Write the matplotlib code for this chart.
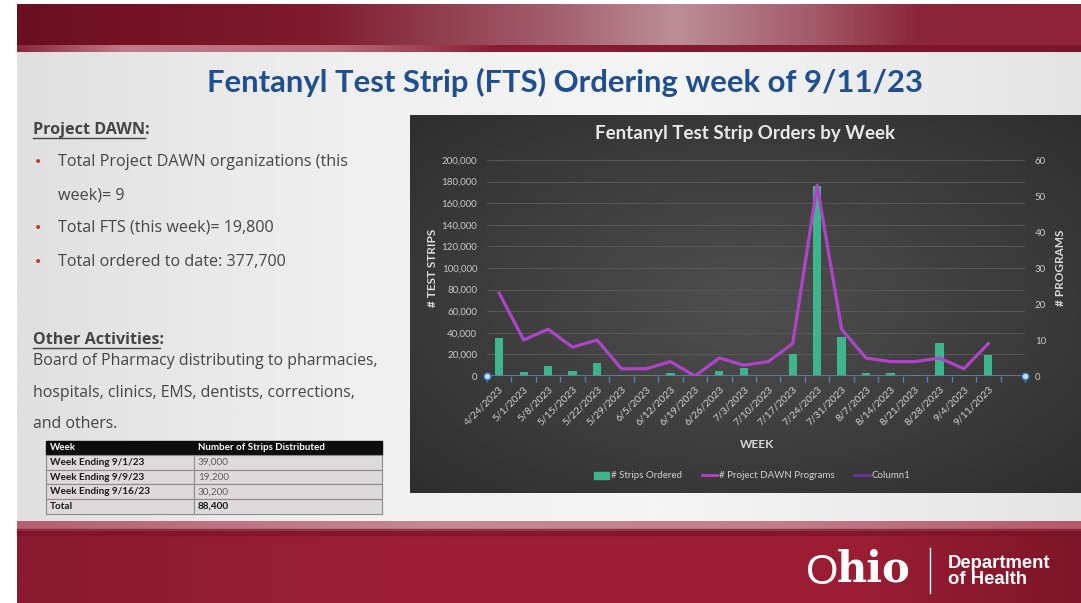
import numpy as np
import matplotlib.pyplot as plt
from matplotlib.colors import LinearSegmentedColormap
from matplotlib.patches import Rectangle, Patch
from matplotlib.lines import Line2D
from matplotlib.ticker import FuncFormatter

weeks = ['4/24/2023', '5/1/2023', '5/8/2023', '5/15/2023', '5/22/2023', '5/29/2023',
         '6/5/2023', '6/12/2023', '6/19/2023', '6/26/2023', '7/3/2023', '7/10/2023',
         '7/17/2023', '7/24/2023', '7/31/2023', '8/7/2023', '8/14/2023', '8/21/2023',
         '8/28/2023', '9/4/2023', '9/11/2023']
strips_ordered = [35000, 4000, 9500, 4600, 12000, 600, 600, 3000, 0, 4900, 7000, 400,
                  20000, 176000, 36000, 2800, 2500, 600, 30500, 600, 19800]
dawn_programs = [23, 10, 13, 8, 10, 2, 2, 4, 0, 5, 3, 4, 9, 53, 13, 5, 4, 4, 5, 2, 9]

table_weeks = ['Week Ending 9/1/23', 'Week Ending 9/9/23', 'Week Ending 9/16/23', 'Total']
table_strips = ['39,000', '19,200', '30,200', '88,400']

bullet_lines = [('•', 'Total Project DAWN organizations (this'),
                ('', 'week)= 9'),
                ('•', 'Total FTS (this week)= 19,800'),
                ('•', 'Total ordered to date: 377,700')]
other_lines = ['Board of Pharmacy distributing to pharmacies,',
               'hospitals, clinics, EMS, dentists, corrections,',
               'and others.']

W, H = 1081, 603
fig = plt.figure(figsize=(W / 100, H / 100), dpi=100)
bg = fig.add_axes([0, 0, 1, 1])
bg.set_xlim(0, W)
bg.set_ylim(H, 0)
bg.axis('off')


def grad(stops, n=400):
    cm = LinearSegmentedColormap.from_list('g', stops)
    return cm(np.linspace(0, 1, n))[None, :, :3]


# slide background
bg.add_patch(Rectangle((0, 0), W, H, color='white', zorder=0))
body = grad([(0, '#e0e0e0'), (0.3, '#efefef'), (0.6, '#f5f5f5'), (1, '#e4e4e4')])
bg.imshow(body, extent=[17, W, 522, 50], aspect='auto', zorder=1)

# top band
top = grad([(0, '#6b0f1f'), (0.28, '#7e1b2d'), (0.5, '#a25d6c'), (0.62, '#bb8e98'),
            (0.75, '#a35a69'), (0.85, '#8b2639'), (1, '#8f2237')])
bg.imshow(top, extent=[17, W, 46, 4], aspect='auto', zorder=1)
strip = grad([(0, '#8e2a3a'), (0.1, '#c07a88'), (0.3, '#b86a79'), (0.45, '#8a1c2f'), (1, '#7c1527')])
bg.imshow(strip, extent=[17, W, 52, 45], aspect='auto', zorder=1)

# bottom band
bot = grad([(0, '#8a1a2e'), (0.4, '#9e1f35'), (0.8, '#9a1d33'), (1, '#7d1628')])
bg.imshow(bot, extent=[17, W, H, 531], aspect='auto', zorder=1)
bstrip = grad([(0, '#b5606f'), (0.4, '#c58894'), (0.7, '#c27e8b'), (1, '#b35a6a')])
bg.imshow(bstrip, extent=[17, W, 531, 521], aspect='auto', zorder=1)
bg.add_patch(Rectangle((17, 529), W - 17, 6, color='#7a1426', alpha=0.6, zorder=2))

# title
bg.text(565, 82, 'Fentanyl Test Strip (FTS) Ordering week of 9/11/23', fontsize=22.3,
        fontweight='bold', family='Lato', color='#1f4f8f', ha='center', va='center', zorder=3)

# left text block
txt_col = '#454545'
fs = 11.6
fig.canvas.draw()
rend = fig.canvas.get_renderer()


def underlined(x, y, s):
    probe = bg.text(x, y, s, fontsize=fs, fontweight='bold', family='Open Sans')
    w = probe.get_window_extent(rend).width
    probe.remove()
    bg.text(x, y, s + ':', fontsize=fs, fontweight='bold', family='Open Sans', color=txt_col,
            ha='left', va='center', zorder=3)
    bg.plot([x, x + w], [y + 8, y + 8], color=txt_col, lw=1, zorder=3)


underlined(33, 130, 'Project DAWN')
for y, (mark, s) in zip([162, 196, 228, 262], bullet_lines):
    if mark:
        bg.text(38, y, mark, fontsize=10, color='#c0392b', ha='center', va='center', zorder=3)
    bg.text(58, y, s, fontsize=fs, family='Open Sans', color=txt_col, ha='left',
            va='center', zorder=3)

underlined(33, 340, 'Other Activities')
for y, s in zip([361, 393, 424], other_lines):
    bg.text(33, y, s, fontsize=11.4, family='Open Sans', color=txt_col,
            ha='left', va='center', zorder=3)

# table
tx0, tx1, tx2 = 46, 194, 382
bg.add_patch(Rectangle((tx0, 441), tx2 - tx0, 14, color='#0d0d0d', zorder=3))
bg.text(50, 448, 'Week', fontsize=7, fontweight='bold', family='Lato', color='white',
        va='center', zorder=4)
bg.text(198, 448, 'Number of Strips Distributed', fontsize=7, fontweight='bold',
        family='Lato', color='white', va='center', zorder=4)
row_h = 14.7
for i, (wk, n) in enumerate(zip(table_weeks, table_strips)):
    y0 = 455 + i * row_h
    for xa, xb in [(tx0, tx1), (tx1, tx2)]:
        bg.add_patch(Rectangle((xa, y0), xb - xa, row_h, facecolor='#dcdada',
                               edgecolor='#8c8c8c', lw=0.8, zorder=3))
    bold = wk == 'Total'
    bg.text(50, y0 + row_h / 2, wk, fontsize=7.2, fontweight='bold', family='Lato',
            color='#1a1a1a', va='center', zorder=4)
    bg.text(198, y0 + row_h / 2, n, fontsize=7.2, fontweight='bold' if bold else 'normal',
            family='Lato', color='#1a1a1a' if bold else '#606060', va='center', zorder=4)

# Ohio logo
bg.text(838, 573, 'O', fontsize=30, family='Liberation Sans', color='white',
        ha='right', va='center', zorder=3)
bg.text(837, 570, 'hio', fontsize=30, fontweight='bold', family='DejaVu Serif',
        color='white', ha='left', va='center', zorder=3)
bg.plot([930, 930], [548, 593], color='white', lw=1, zorder=3)
bg.text(948, 563, 'Department', fontsize=13.3, fontweight='bold', family='Liberation Sans',
        color='white', va='center', zorder=3)
bg.text(948, 579, 'of Health', fontsize=13.3, fontweight='bold', family='Liberation Sans',
        color='white', va='center', zorder=3)

# dark chart panel with radial shade
yy, xx = np.mgrid[0:1:200j, 0:1:300j]
r = np.sqrt(((xx - 0.5) / 0.6) ** 2 + ((yy - 0.5) / 0.6) ** 2)
shade = np.clip(0.31 - 0.11 * r, 0.17, 0.31)
panel = np.dstack([shade, shade, shade])
bg.imshow(panel, extent=[410, W, 493, 115], aspect='auto', zorder=2)

bg.text(745, 134, 'Fentanyl Test Strip Orders by Week', fontsize=13.5, fontweight='bold',
        family='Lato', color='#e8e8e8', ha='center', va='center', zorder=3)
bg.text(432, 268, '# TEST STRIPS', fontsize=8.5, fontweight='bold', family='Lato',
        color='#d9d9d9', rotation=90, ha='center', va='center', zorder=3)
bg.text(1060, 268, '# PROGRAMS', fontsize=8.5, fontweight='bold', family='Lato',
        color='#d9d9d9', rotation=90, ha='center', va='center', zorder=3)
bg.text(757, 444, 'WEEK', fontsize=8.5, fontweight='bold', family='Lato',
        color='#d9d9d9', ha='center', va='center', zorder=3)

# chart axes
ax = fig.add_axes([487 / W, 1 - 376 / H, 538 / W, 216 / H])
ax.patch.set_alpha(0)
for s in ax.spines.values():
    s.set_visible(False)
x = np.arange(len(weeks))
ax.bar(x, strips_ordered, width=0.34, color='#3fb58e', zorder=3)
ax.set_xlim(-0.5, len(weeks) + 0.5)
ax.set_ylim(0, 200000)
ax.set_yticks(np.arange(0, 200001, 20000))
ax.yaxis.set_major_formatter(FuncFormatter(lambda v, p: f'{int(v):,}'))
ax.grid(axis='y', color='#585858', lw=0.7, zorder=0)
ax.tick_params(axis='y', length=0, labelsize=7, labelcolor='#c8c8c8', pad=7)
ax.set_xticks(x)
ax.set_xticklabels(weeks, rotation=45, ha='right', rotation_mode='anchor',
                   fontsize=7.5, color='#cfcfcf')
ax.set_xticks(np.arange(-0.5, len(weeks) + 1, 1), minor=True)
ax.tick_params(axis='x', which='major', length=0, pad=6)
ax.tick_params(axis='x', which='minor', length=4, color='#4f81bd', width=1)
for lab in ax.get_yticklabels() + ax.get_xticklabels():
    lab.set_family('Lato')
ax.axhline(0, color='#4f81bd', lw=1.3, zorder=4)
ax.plot([-0.5, len(weeks) + 0.5], [0, 0], ls='none', marker='o', ms=5, mfc='#bfe0ff',
        mec='#2e75b6', mew=1, zorder=6, clip_on=False)

ax2 = ax.twinx()
for s in ax2.spines.values():
    s.set_visible(False)
ax2.plot(x, dawn_programs, color='#b044c9', lw=2.3, zorder=5)
ax2.set_ylim(0, 60)
ax2.set_yticks(np.arange(0, 61, 10))
ax2.tick_params(axis='y', length=0, labelsize=7, labelcolor='#c8c8c8', pad=7)
for lab in ax2.get_yticklabels():
    lab.set_family('Lato')

handles = [Patch(color='#3fb58e'), Line2D([], [], color='#b044c9', lw=2),
           Line2D([], [], color='#7030a0', lw=2)]
fig.legend(handles, ['# Strips Ordered', '# Project DAWN Programs', 'Column1'],
           loc='center', bbox_to_anchor=(752 / W, 1 - 476 / H), ncol=3, frameon=False,
           labelcolor='#d0d0d0', handlelength=1.6, handletextpad=0.2,
           columnspacing=2.0, prop={'family': 'Lato', 'size': 7})

fig.savefig('out.png', dpi=100)
